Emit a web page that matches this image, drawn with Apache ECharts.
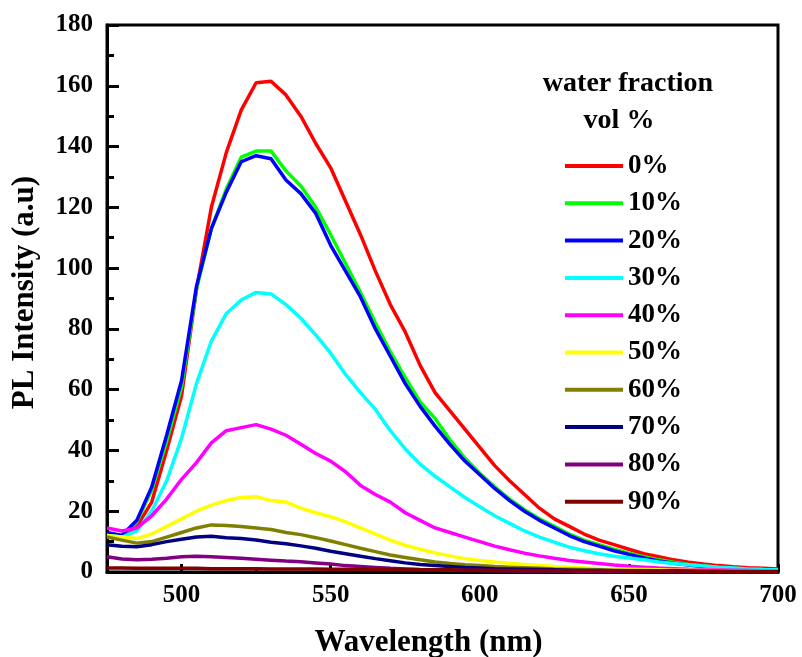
<!DOCTYPE html>
<html>
<head>
<meta charset="utf-8">
<script src="https://cdn.jsdelivr.net/npm/echarts@6/dist/echarts.min.js"></script>
<style>
html,body{margin:0;padding:0;background:#fff;}
#chart{width:802px;height:657px;}
</style>
</head>
<body>
<div id="chart"></div>
<script>
var wavelengths = [475,480,485,490,495,500,505,510,515,520,525,530,535,540,545,550,555,560,565,570,575,580,585,590,595,600,605,610,615,620,625,630,635,640,645,650,655,660,665,670,675,680,685,690,695,700];
var seriesNames = ['0%','10%','20%','30%','40%','50%','60%','70%','80%','90%'];
var seriesColors = ['#ff0000','#00ff00','#0000ff','#00ffff','#ff00ff','#ffff00','#808000','#000080','#800080','#800000'];
var xTickLabels = [500,550,600,650,700];
var xMinorTicks = [525,575,625,675];

var w0  = [12.5,11.5,15,23,40,58,93,120,138,152,161,161.5,157,150,141,133,122,111,99,88,79,68,59,53,47,41,35,30,25.5,21,17.5,15,12.5,10.5,9,7.5,6,5,4,3.2,2.6,2.1,1.7,1.4,1.2,1.0];
var w10 = [12.5,12,16.5,27,43,61,93,113,126,136.5,138.5,138.5,132,127,120,111,101.5,92,82,72.5,64,56,50.5,43.5,37.5,32.5,28,24,20.5,17.5,15,12.5,10.5,9,7.5,6.2,5,4,3.2,2.5,2,1.5,1.2,1,0.8,0.7];
var w20 = [13,12,17,28,45,63,94,113,125,135,137,136,129,124.5,118,107.5,99,90.5,80,71,62,54.5,48,42,36.5,32,27.5,23.5,20,17,14.5,12,10,8.5,7,5.8,4.6,3.6,2.9,2.3,1.8,1.4,1.1,0.9,0.7,0.6];
var w30 = [12,11.5,13.5,20,30,44,62,76,85,89.5,92,91.5,88,83.5,78,72,65,59,53.5,46.5,40.5,35.5,31.5,28,24.5,21.5,18.5,16,13.5,11.5,9.8,8.2,7,6,5.2,4.6,4,3.3,2.8,2.4,2,1.6,1.3,1,0.8,0.7];
var w40 = [14.5,13.5,14.5,18.5,24,30.5,36,42.5,46.5,47.5,48.5,47,45,42,39,36.5,33,28.5,25.5,23,19.5,17,14.5,13,11.5,10,8.5,7.3,6.2,5.3,4.5,3.8,3.3,2.8,2.3,1.9,1.6,1.3,1.1,0.9,0.8,0.7,0.6,0.5,0.4,0.4];
var w50 = [12,11.5,11,12.5,15,17.5,20,22,23.5,24.5,24.8,23.5,23,21,19.5,18.2,16.5,14.5,12.5,10.5,8.8,7.5,6.3,5.3,4.4,3.8,3.3,2.9,2.5,2.1,1.8,1.5,1.3,1.1,1,0.9,0.8,0.7,0.6,0.6,0.5,0.5,0.4,0.4,0.3,0.3];
var w60 = [11.5,10.5,9.5,10,11.5,13,14.5,15.5,15.3,15,14.5,14,13,12.3,11.3,10.2,9,7.8,6.7,5.6,4.8,4,3.3,2.8,2.4,2.1,1.8,1.6,1.4,1.2,1,0.9,0.8,0.7,0.6,0.5,0.5,0.4,0.4,0.3,0.3,0.3,0.2,0.2,0.2,0.2];
var w70 = [9,8.5,8.3,9,10,10.8,11.5,11.8,11.3,11,10.5,9.8,9.3,8.6,7.8,6.8,6,5.2,4.4,3.7,3,2.5,2.1,1.8,1.5,1.3,1.1,1,0.9,0.8,0.7,0.6,0.5,0.5,0.4,0.4,0.3,0.3,0.3,0.2,0.2,0.2,0.2,0.2,0.1,0.1];
var w80 = [5,4.3,4,4.2,4.5,5,5.2,5,4.8,4.5,4.2,3.9,3.6,3.4,3,2.6,2.1,1.8,1.5,1.2,1,0.8,0.7,0.6,0.5,0.5,0.4,0.4,0.3,0.3,0.3,0.3,0.2,0.2,0.2,0.2,0.2,0.2,0.1,0.1,0.1,0.1,0.1,0.1,0.1,0.1];
var w90 = [1.3,1.3,1.2,1.2,1.2,1.2,1.2,1.1,1.1,1.1,1.1,1,1,1,1,0.9,0.9,0.9,0.8,0.8,0.8,0.7,0.7,0.7,0.6,0.6,0.6,0.5,0.5,0.5,0.5,0.4,0.4,0.4,0.4,0.3,0.3,0.3,0.3,0.3,0.2,0.2,0.2,0.2,0.2,0.2];

var allValues = [w0,w10,w20,w30,w40,w50,w60,w70,w80,w90];
var FONT = "'Liberation Serif','Times New Roman',serif";

var series = seriesNames.map(function(name, i){
  return {
    name: name,
    type: 'line',
    xAxisIndex: 0,
    yAxisIndex: 0,
    showSymbol: false,
    symbol: 'none',
    smooth: false,
    animation: false,
    color: seriesColors[i],
    lineStyle: {width: 3.5, color: seriesColors[i]},
    data: wavelengths.map(function(x, k){ return [x, allValues[i][k]]; })
  };
});

var chart = echarts.init(document.getElementById('chart'), null, {renderer: 'canvas'});
chart.setOption({
  animation: false,
  backgroundColor: '#ffffff',
  grid: {left: 107, right: 24, top: 25, bottom: 85, show: true, borderColor: '#000', borderWidth: 3, backgroundColor: 'transparent', containLabel: false, outerBoundsMode: 'none'},
  legend: {
    orient: 'vertical', left: 565, top: 151, padding: 0,
    icon: 'rect', itemWidth: 58, itemHeight: 4, itemGap: 7.3,
    data: seriesNames,
    textStyle: {fontFamily: FONT, fontWeight: 'bold', fontSize: 27, lineHeight: 30, color: '#000'}
  },
  graphic: [
    {type: 'text', style: {text: 'water fraction', fontFamily: FONT, fontWeight: 'bold', fontSize: 28, fill: '#000', align: 'center', verticalAlign: 'middle', x: 628, y: 84}},
    {type: 'text', style: {text: 'vol %', fontFamily: FONT, fontWeight: 'bold', fontSize: 28, fill: '#000', align: 'center', verticalAlign: 'middle', x: 619, y: 121}}
  ],
  xAxis: [{
    type: 'value', min: 475, max: 700, position: 'bottom',
    name: 'Wavelength (nm)', nameLocation: 'middle', nameGap: 55,
    nameTextStyle: {fontFamily: FONT, fontWeight: 'bold', fontSize: 31, color: '#000', padding: [0, 28, 0, 0]},
    axisLine: {show: true, onZero: false, lineStyle: {color: '#000', width: 3}},
    axisTick: {show: true, inside: true, length: 8, lineStyle: {color: '#000', width: 3}, customValues: xTickLabels},
    axisLabel: {show: true, margin: 11, fontFamily: FONT, fontWeight: 'bold', fontSize: 25, color: '#000', customValues: xTickLabels},
    splitLine: {show: false}
  }, {
    type: 'value', min: 475, max: 700, position: 'bottom',
    axisLine: {show: false},
    axisTick: {show: true, inside: true, length: 4, lineStyle: {color: '#000', width: 3}, customValues: xMinorTicks},
    axisLabel: {show: false},
    splitLine: {show: false}
  }],
  yAxis: [{
    type: 'value', min: 0, max: 180, interval: 20,
    name: 'PL Intensity (a.u)', nameLocation: 'middle', nameGap: 67, nameRotate: 90,
    nameTextStyle: {fontFamily: FONT, fontWeight: 'bold', fontSize: 31, color: '#000', padding: [0, 0, 0, 12]},
    axisLine: {show: true, onZero: false, lineStyle: {color: '#000', width: 3}},
    axisTick: {show: true, inside: true, length: 12, lineStyle: {color: '#000', width: 3}},
    minorTick: {show: true, splitNumber: 2, length: 7, lineStyle: {color: '#000', width: 3}},
    axisLabel: {margin: 14, fontFamily: FONT, fontWeight: 'bold', fontSize: 25, color: '#000'},
    splitLine: {show: false},
    minorSplitLine: {show: false}
  }],
  series: series
});
</script>
</body>
</html>
